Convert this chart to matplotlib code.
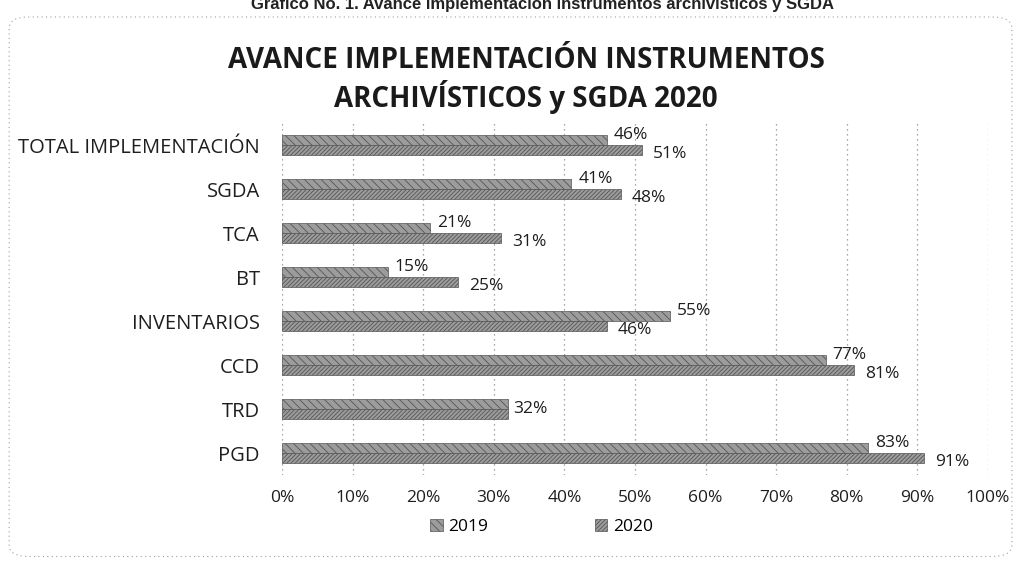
import numpy as np
import matplotlib
matplotlib.use('Agg')
import matplotlib.pyplot as plt
from matplotlib.patches import FancyBboxPatch

# Chart data
categories = ['TOTAL IMPLEMENTACIÓN', 'SGDA', 'TCA', 'BT', 'INVENTARIOS', 'CCD', 'TRD', 'PGD']
values_2019 = [46, 41, 21, 15, 55, 77, 32, 83]
values_2020 = [51, 48, 31, 25, 46, 81, 32, 91]
series_names = ['2019', '2020']
x_ticks = [0, 10, 20, 30, 40, 50, 60, 70, 80, 90, 100]

caption = 'Gráfico No. 1. Avance implementación instrumentos archivísticos y SGDA'
title = 'AVANCE IMPLEMENTACIÓN INSTRUMENTOS\nARCHIVÍSTICOS y SGDA 2020'

plt.rcParams['font.family'] = ['Open Sans', 'DejaVu Sans']

fig = plt.figure(figsize=(10.18, 5.65), dpi=100)
ax = fig.add_axes([0.277, 0.159, 0.6935, 0.623])

y = np.arange(len(categories))
h = 0.22
face = '#9c9c9c'
plt.rcParams['hatch.color'] = '#5e5e5e'
plt.rcParams['hatch.linewidth'] = 0.6

bars19 = ax.barh(y - h / 2, values_2019, height=h, color=face, edgecolor='#555555',
                 linewidth=0.5, hatch='\\\\\\\\', label=series_names[0], zorder=3)
bars20 = ax.barh(y + h / 2, values_2020, height=h, color=face, edgecolor='#555555',
                 linewidth=0.5, hatch='////////', label=series_names[1], zorder=3)

# Data labels
lab_size = 12.5
for i in range(len(categories)):
    a, b = values_2019[i], values_2020[i]
    if a == b:
        ax.annotate(f'{a}%', (a, y[i]), xytext=(4, 0), textcoords='offset points',
                    ha='left', va='center', fontsize=lab_size, color='#1e1e1e')
        continue
    ax.annotate(f'{a}%', (a, y[i] - h / 2), xytext=(5, 4), textcoords='offset points',
                ha='left', va='center', fontsize=lab_size, color='#1e1e1e')
    ax.annotate(f'{b}%', (b, y[i] + h / 2), xytext=(8, -3), textcoords='offset points',
                ha='left', va='center', fontsize=lab_size, color='#1e1e1e')

ax.set_xlim(0, 100)
ax.set_ylim(len(categories) - 0.5, -0.5)
ax.set_xticks(x_ticks)
ax.set_xticklabels([f'{t}%' for t in x_ticks], fontsize=12.5, color='#1e1e1e')
ax.set_yticks(y)
ax.set_yticklabels(categories, fontsize=14.5, color='#1e1e1e')
ax.tick_params(axis='both', length=0)
ax.tick_params(axis='x', pad=11)
ax.tick_params(axis='y', pad=16)
for s in ax.spines.values():
    s.set_visible(False)
ax.grid(True, axis='x', linestyle=(0, (1, 3)), color='#8a8a8a', linewidth=0.9, zorder=0)
ax.set_axisbelow(True)

# Titles
fig.text(0.533, 1 - 9 / 565, caption, ha='center', va='baseline', fontsize=12,
         fontweight='bold', family='Liberation Sans', color='#222222')
fig.text(0.517, 1 - 80 / 565, title, ha='center', va='center', fontsize=20,
         fontweight='bold', color='#1a1a1a', linespacing=1.15)

# Legend
leg = fig.legend(loc='center', bbox_to_anchor=(0.532, 0.067), ncol=2, frameon=False,
                 fontsize=12.5, handlelength=0.7, handleheight=0.7, handletextpad=0.3,
                 columnspacing=6.2)

# Scanned chart-area border
border = FancyBboxPatch((0.009, 0.015), 0.985, 0.955, boxstyle='round,pad=0,rounding_size=0.02',
                        transform=fig.transFigure, fill=False, edgecolor='#a0a0a0',
                        linestyle=(0, (1, 3)), linewidth=0.8)
fig.patches.append(border)

plt.savefig('out.png', dpi=100)
plt.close()
